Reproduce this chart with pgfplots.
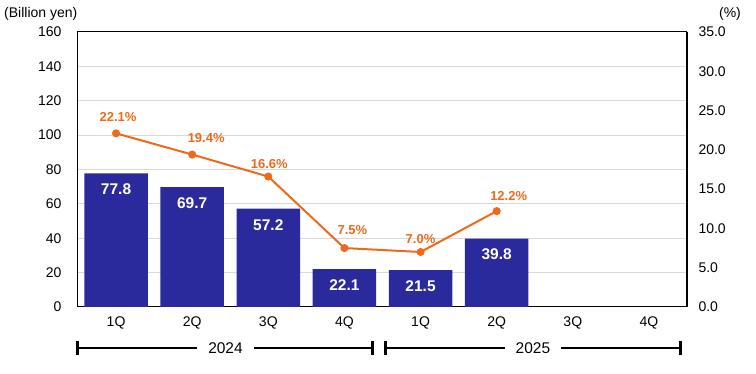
\documentclass[border=0pt]{standalone}
\usepackage{fontspec}
\setmainfont{Liberation Sans}
\usepackage{pgfplots}
\usepackage{pgfplotstable}
\pgfplotsset{compat=1.18}
\definecolor{barblue}{HTML}{2B2A9C}
\definecolor{lineorange}{HTML}{EE6A1A}
\definecolor{gridgray}{HTML}{D9D9D9}

\pgfplotstableread{
x y
0 77.8
1 69.7
2 57.2
3 22.1
4 21.5
5 39.8
}\bardata

\pgfplotstableread{
x y dx dy
0 22.1 2 16
1 19.4 14 17
2 16.6 1 13
3 7.5 8 18
4 7.0 0 13
5 12.2 12 15
}\linedata

\pgfplotsset{/pgf/number format/assume math mode=true}

\begin{document}
\begin{tikzpicture}
\path (-78pt,-67pt) rectangle (678pt,307pt);
\begin{axis}[
  at={(0pt,0pt)}, anchor=south west,
  scale only axis, width=609pt, height=275pt,
  xmin=-0.5, xmax=7.5, ymin=0, ymax=160,
  xtick={0,...,7}, xticklabels={1Q,2Q,3Q,4Q,1Q,2Q,3Q,4Q},
  ytick={0,20,...,160},
  ytick pos=left, xtick pos=bottom,
  major tick length=0pt,
  ymajorgrids, grid style={gridgray, line width=1pt},
  axis line style={black, line width=1pt},
  tick label style={font=\fontsize{14}{16}\selectfont},
  xticklabel style={yshift=-6pt},
  yticklabel style={xshift=-13pt},
  clip=false,
]
\addplot[ybar, bar width=63.5pt, fill=barblue, draw=none,
  nodes near coords={\pgfmathprintnumber[fixed,fixed zerofill,precision=1]{\pgfplotspointmeta}},
  every node near coord/.style={font=\bfseries\fontsize{15.5}{17}\selectfont, white, anchor=center, yshift=-16pt}]
  table[x=x, y=y, meta=y]{\bardata};

% year brackets
\draw[line width=1.5pt] ([yshift=-41pt]axis cs:-0.5,0) -- ([yshift=-41pt]axis cs:3.375,0);
\draw[line width=3pt] ([yshift=-34pt]axis cs:-0.5,0) -- ([yshift=-48pt]axis cs:-0.5,0);
\draw[line width=3pt] ([yshift=-34pt]axis cs:3.375,0) -- ([yshift=-48pt]axis cs:3.375,0);
\node[fill=white, inner xsep=11pt, inner ysep=1pt, font=\fontsize{15.5}{17}\selectfont] at ([yshift=-41pt]axis cs:1.4375,0) {2024};
\draw[line width=1.5pt] ([yshift=-41pt]axis cs:3.533,0) -- ([yshift=-41pt]axis cs:7.42,0);
\draw[line width=3pt] ([yshift=-34pt]axis cs:3.533,0) -- ([yshift=-48pt]axis cs:3.533,0);
\draw[line width=3pt] ([yshift=-34pt]axis cs:7.42,0) -- ([yshift=-48pt]axis cs:7.42,0);
\node[fill=white, inner xsep=11pt, inner ysep=1pt, font=\fontsize{15.5}{17}\selectfont] at ([yshift=-41pt]axis cs:5.4765,0) {2025};

\node[anchor=west, inner sep=0pt, font=\fontsize{14}{16}\selectfont] at ([xshift=-74pt, yshift=18pt]rel axis cs:0,1) {(Billion yen)};
\node[anchor=center, inner sep=0pt, font=\fontsize{14}{16}\selectfont] at ([xshift=43pt, yshift=18pt]rel axis cs:1,1) {(\%)};
\end{axis}

\begin{axis}[
  at={(0pt,0pt)}, anchor=south west,
  scale only axis, width=609pt, height=275pt,
  xmin=-0.5, xmax=7.5, ymin=0, ymax=35,
  axis x line=none, axis y line*=right,
  ytick={0,5,...,35},
  major tick length=0pt,
  axis line style={black, line width=1pt},
  tick label style={font=\fontsize{14}{16}\selectfont},
  yticklabel style={xshift=8pt, /pgf/number format/.cd, fixed, fixed zerofill, precision=1},
  clip=false,
]
\addplot[lineorange, line width=2pt, mark=*, mark size=3pt, mark options={solid, fill=lineorange, draw=lineorange},
  visualization depends on={\thisrow{dx} \as \dx},
  visualization depends on={\thisrow{dy} \as \dy},
  nodes near coords={\pgfmathprintnumber[fixed,fixed zerofill,precision=1]{\pgfplotspointmeta}\%},
  every node near coord/.style={font=\bfseries\fontsize{13}{15}\selectfont, lineorange, anchor=center, xshift=\dx pt, yshift=\dy pt}]
  table[x=x, y=y, meta=y]{\linedata};
\end{axis}
\end{tikzpicture}
\end{document}
